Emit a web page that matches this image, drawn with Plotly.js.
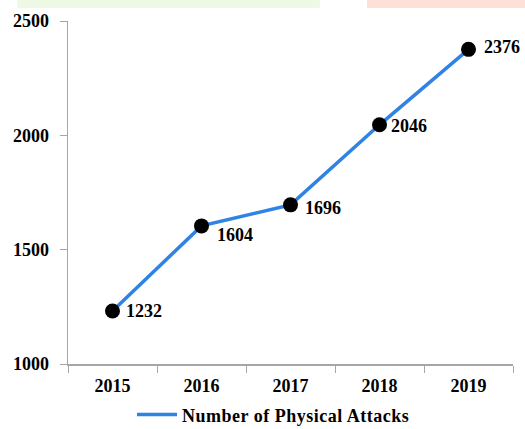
<!DOCTYPE html>
<html>
<head>
<meta charset="utf-8">
<script src="https://cdn.plot.ly/plotly-3.0.1.min.js"></script>
<style>html,body{margin:0;padding:0;background:#fff;}#chart{width:525px;height:429px;}
.legendtext{letter-spacing:0.5px;}</style>
</head>
<body>
<div id="chart"></div>
<script>
const years = ['2015', '2016', '2017', '2018', '2019'];
const attacks = [1232, 1604, 1696, 2046, 2376];
const seriesName = 'Number of Physical Attacks';
const yTicks = [1000, 1500, 2000, 2500];

// label offsets (styling only)
const labelDx = [11, 13, 12, 9, 13];
const labelDy = [0, -9, -3, -1, 2];

const fam = '"Liberation Serif", "Times New Roman", serif';
const boldFont = (s) => ({family: fam, size: s, color: '#000', weight: 'bold'});

const trace = {
  type: 'scatter',
  mode: 'lines+markers',
  x: years,
  y: attacks,
  name: seriesName,
  showlegend: false,
  line: {color: '#2f83e4', width: 3.5},
  marker: {color: '#000', size: 15, symbol: 'circle'},
  cliponaxis: false
};

const legendTrace = {
  type: 'scatter',
  mode: 'lines',
  x: [years[0]],
  y: [attacks[0]],
  name: seriesName,
  showlegend: true,
  line: {color: '#2f83e4', width: 3.5}
};

const annotations = years.map((yr, i) => ({
  x: i, y: attacks[i], xref: 'x', yref: 'y',
  text: '<b>' + attacks[i] + '</b>',
  showarrow: false,
  xanchor: 'left', yanchor: 'middle',
  xshift: labelDx[i], yshift: labelDy[i],
  font: {family: fam, size: 18, color: '#000'}
}));

const layout = {
  width: 525,
  height: 429,
  margin: {l: 68, r: 12, t: 21, b: 65, autoexpand: false},
  paper_bgcolor: '#fff',
  plot_bgcolor: '#fff',
  font: {family: fam, size: 18, color: '#000'},
  showlegend: true,
  legend: {
    orientation: 'h',
    xref: 'container', yref: 'container',
    x: 0.521, xanchor: 'center', y: 0.033, yanchor: 'middle',
    font: boldFont(18),
    itemwidth: 40,
    bgcolor: 'rgba(0,0,0,0)'
  },
  xaxis: {
    type: 'category',
    range: [-0.5, 4.5],
    tickson: 'boundaries',
    ticks: 'outside', ticklen: 7, tickcolor: '#a6a6a6',
    showline: true, linecolor: '#a6a6a6', linewidth: 1.5,
    showgrid: false, zeroline: false,
    tickfont: boldFont(18),
    ticklabelstandoff: 5
  },
  yaxis: {
    range: [1000, 2500],
    tickvals: yTicks,
    ticktext: yTicks.map(String),
    ticks: 'outside', ticklen: 7, tickcolor: '#a6a6a6',
    showline: true, linecolor: '#a6a6a6', linewidth: 1.5,
    showgrid: false, zeroline: false,
    tickfont: boldFont(18),
    ticklabelstandoff: 7
  },
  annotations: annotations,
  shapes: [
    {type: 'rect', xref: 'paper', yref: 'paper', x0: -0.114, x1: 0.566, y0: 1.0379, y1: 1.0612, fillcolor: '#edf9e4', line: {width: 0}, layer: 'below'},
    {type: 'rect', xref: 'paper', yref: 'paper', x0: 0.672, x1: 1.027, y0: 1.0379, y1: 1.0612, fillcolor: '#fde0d8', line: {width: 0}, layer: 'below'}
  ]
};

Plotly.newPlot('chart', [trace, legendTrace], layout, {displayModeBar: false, staticPlot: true});
</script>
</body>
</html>
